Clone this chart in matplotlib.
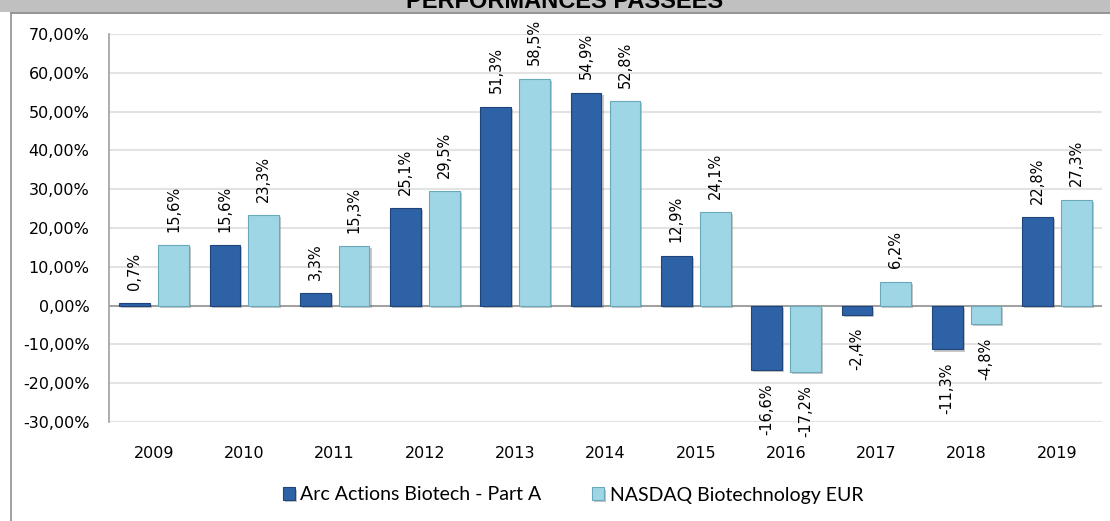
import matplotlib
matplotlib.use("Agg")
import matplotlib.pyplot as plt
import matplotlib.patheffects as pe
from matplotlib.patches import Rectangle
from matplotlib.lines import Line2D
import numpy as np

years = ["2009", "2010", "2011", "2012", "2013", "2014", "2015", "2016", "2017", "2018", "2019"]
arc_values = [0.7, 15.6, 3.3, 25.1, 51.3, 54.9, 12.9, -16.6, -2.4, -11.3, 22.8]
nasdaq_values = [15.6, 23.3, 15.3, 29.5, 58.5, 52.8, 24.1, -17.2, 6.2, -4.8, 27.3]
series_names = ["Arc Actions Biotech - Part A", "NASDAQ Biotechnology EUR"]
yticks = [-30, -20, -10, 0, 10, 20, 30, 40, 50, 60, 70]
title = "PERFORMANCES PASSEES"

dark = "#2E62A6"
dark_edge = "#1E4479"
light = "#9ED6E5"
light_edge = "#6AA9BB"

fig = plt.figure(figsize=(11.10, 5.21), dpi=100)
W, H = 1110, 521

# top band and frame
fig.patches.append(Rectangle((0, 1 - 12 / H), 1, 12 / H, transform=fig.transFigure,
                             facecolor="#C0C0C0", edgecolor="none", zorder=0))
fig.lines.append(Line2D([11 / W, 1], [1 - 12.5 / H, 1 - 12.5 / H], transform=fig.transFigure,
                        color="#808080", lw=1.2))
fig.lines.append(Line2D([11 / W, 11 / W], [0, 1 - 12.5 / H], transform=fig.transFigure,
                        color="#909090", lw=1.2))
fig.text(565 / W, 1 - 7.5 / H, title, ha="center", va="baseline", fontsize=17,
         fontweight="bold", family="Liberation Sans", color="#000000")

ax = fig.add_axes([109 / W, 99 / H, (1102 - 109) / W, (422 - 34) / H])
x = np.arange(len(years))
w = 0.34
off = 0.215
shadow = [pe.SimplePatchShadow(offset=(1.5, -1.5), alpha=0.35, shadow_rgbFace="#606060"), pe.Normal()]
b1 = ax.bar(x - off, arc_values, w, color=dark, edgecolor=dark_edge, lw=0.8, zorder=3,
            label=series_names[0])
b2 = ax.bar(x + off, nasdaq_values, w, color=light, edgecolor=light_edge, lw=0.8, zorder=3,
            label=series_names[1])
for bars in (b1, b2):
    for b in bars:
        b.set_path_effects(shadow)

def fmt(v):
    return f"{v:.1f}".replace(".", ",") + "%"

for xs, vals in ((x - off, arc_values), (x + off, nasdaq_values)):
    for xi, v in zip(xs, vals):
        if v >= 0:
            ax.annotate(fmt(v), (xi, v), xytext=(0, 9.5), textcoords="offset points",
                        rotation=90, ha="center", va="bottom", fontsize=10.5,
                        family="DejaVu Sans", color="#000000")
        else:
            ax.annotate(fmt(v), (xi, v), xytext=(0, -9.5), textcoords="offset points",
                        rotation=90, ha="center", va="top", fontsize=10.5,
                        family="DejaVu Sans", color="#000000")

ax.set_xlim(-0.5, len(years) - 0.5)
ax.set_ylim(-30, 70)
ax.set_yticks(yticks)
ax.set_yticklabels([f"{t},00%" for t in yticks], fontsize=11.5, family="DejaVu Sans")
ax.set_xticks(x)
ax.set_xticklabels(years, fontsize=11.5, family="DejaVu Sans")
ax.tick_params(axis="y", length=0, pad=14)
ax.tick_params(axis="x", length=0, pad=17)
ax.grid(axis="y", color="#E3E3E3", lw=1.5, zorder=0)
ax.set_axisbelow(True)
for s in ("top", "right", "bottom"):
    ax.spines[s].set_visible(False)
ax.spines["left"].set_color("#A0A0A0")
ax.spines["left"].set_linewidth(1.2)
ax.axhline(0, color="#A0A0A0", lw=1.4, zorder=2)

fig.legend(handles=[b1, b2], labels=series_names, loc="center", bbox_to_anchor=(573 / W, 26 / H),
           ncol=2, frameon=False, prop={"family": "Lato", "size": 14},
           handlelength=0.6, handleheight=0.6, handletextpad=0.3, columnspacing=2.6)

fig.savefig("out.png", dpi=100)
